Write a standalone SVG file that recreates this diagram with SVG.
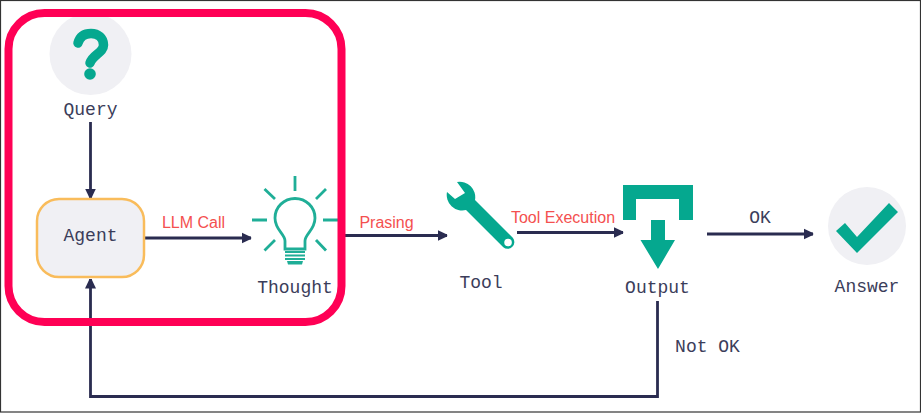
<svg xmlns="http://www.w3.org/2000/svg" width="921" height="413" viewBox="0 0 921 413">
  <style>
    .mono { font-family: "Liberation Mono", "Courier New", monospace; font-size: 18px; fill: #3b3d5a; text-anchor: middle; }
    .red { font-family: "Liberation Sans", Arial, sans-serif; font-size: 16px; fill: #f4504f; text-anchor: middle; }
    .conn { fill: none; stroke: #2a2c50; stroke-width: 2.8; }
    .ray { stroke: #1fae97; stroke-width: 2.8; fill: none; }
    .teal { fill: #05a88f; }
    .bg { fill: #f0f0f4; }
  </style>
  <defs>
    <marker id="arrow" viewBox="0 0 10 12" refX="9.500" refY="6" markerUnits="userSpaceOnUse" markerWidth="10" markerHeight="12" orient="auto">
      <path d="M0 0.500 L9.500 5 Q10 6 9.500 7 L0 11.500 Z" fill="#2a2c50"/>
    </marker>
  </defs>
  <rect x="0.500" y="0.500" width="920" height="411.500" fill="#fff" stroke="#333" stroke-width="1.200"/>

  <g id="node-query">
    <circle class="bg" cx="90.500" cy="54" r="41"/>
    <path d="M78 43 C80 36 85 33.500 91 33.500 C98 33.500 103.500 38 103.500 45 C103.500 53 93 54 90 63" fill="none" stroke="#05a88f" stroke-width="9.500" stroke-linecap="round"/>
    <circle class="teal" cx="90" cy="74" r="5.800"/>
    <text class="mono" x="90.500" y="114.500">Query</text>
  </g>

  <g id="connectors">
    <path class="conn" marker-end="url(#arrow)" d="M90.500 122 V198"/>
    <path class="conn" marker-end="url(#arrow)" d="M145 238 H251"/>
    <path class="conn" marker-end="url(#arrow)" d="M345 235.500 H447"/>
    <path class="conn" marker-end="url(#arrow)" d="M517 232.500 H623"/>
    <path class="conn" marker-end="url(#arrow)" d="M707 234 H813"/>
    <path class="conn" marker-end="url(#arrow)" d="M657.500 301 V396.500 H90.500 V279"/>
  </g>

  <g id="node-agent">
    <rect x="37" y="199" width="107" height="78" rx="22" fill="#f0f0f4" stroke="#f9bc5b" stroke-width="2.500"/>
    <text class="mono" x="90.500" y="241">Agent</text>
  </g>

  <g id="node-thought">
    <path class="ray" d="M295 176 V191 M264.500 189 L275 199 M326 189 L316 199 M252 220 H267 M323 220 H338 M264.500 250.500 L275 240 M326 250.500 L316 240"/>
    <path class="ray" d="M285 249 V241 C285 234 275 230 275 218 C275 207 284 198.500 295 198.500 C306 198.500 315 207 315 218 C315 230 305 234 305 241 V249 Z"/>
    <path d="M285 252 H305 M285 255.500 H305 M285 259 H305" stroke="#1fae97" stroke-width="2" fill="none"/>
    <path d="M287 261 H303 L302 264.500 H288 Z" fill="#1fae97"/>
    <text class="mono" x="295" y="293">Thought</text>
  </g>

  <g id="node-tool">
    <path class="teal" fill-rule="evenodd" d="M447 192 L455 199 L465 193 L457 182 A15.500 15.500 0 0 1 475 200 L512.800 237.800 A6.750 6.750 0 0 1 503.300 247.300 L466 210 A15.500 15.500 0 0 1 447 192 Z M508 238.700 A3.800 3.800 0 1 0 508.100 246.300 A3.800 3.800 0 1 0 508 238.700 Z"/>
    <text class="mono" x="481" y="288">Tool</text>
  </g>

  <g id="node-output">
    <path class="teal" d="M623 185 H693 V220 H679 V199 H636 V220 H623 Z"/>
    <path class="teal" d="M651 220 H665 V240 H675 L658 269 L640.500 240 H651 Z"/>
    <text class="mono" x="657.500" y="293">Output</text>
  </g>

  <g id="node-answer">
    <circle class="bg" cx="867" cy="226" r="39"/>
    <path class="teal" d="M836 231 L845 223 L857 237 L889 203 L898 212 L857 253 Z"/>
    <text class="mono" x="867" y="292">Answer</text>
  </g>

  <g id="highlight">
    <rect x="8.500" y="13" width="333" height="309" rx="36" fill="none" stroke="#ff0055" stroke-width="8"/>
  </g>

  <g id="labels">
    <text class="red" x="193.500" y="228">LLM Call</text>
    <text class="red" x="386.500" y="227.500">Prasing</text>
    <text class="red" x="563" y="223">Tool Execution</text>
    <text class="mono" x="760" y="223">OK</text>
    <text class="mono" x="707.500" y="352">Not OK</text>
  </g>
</svg>
